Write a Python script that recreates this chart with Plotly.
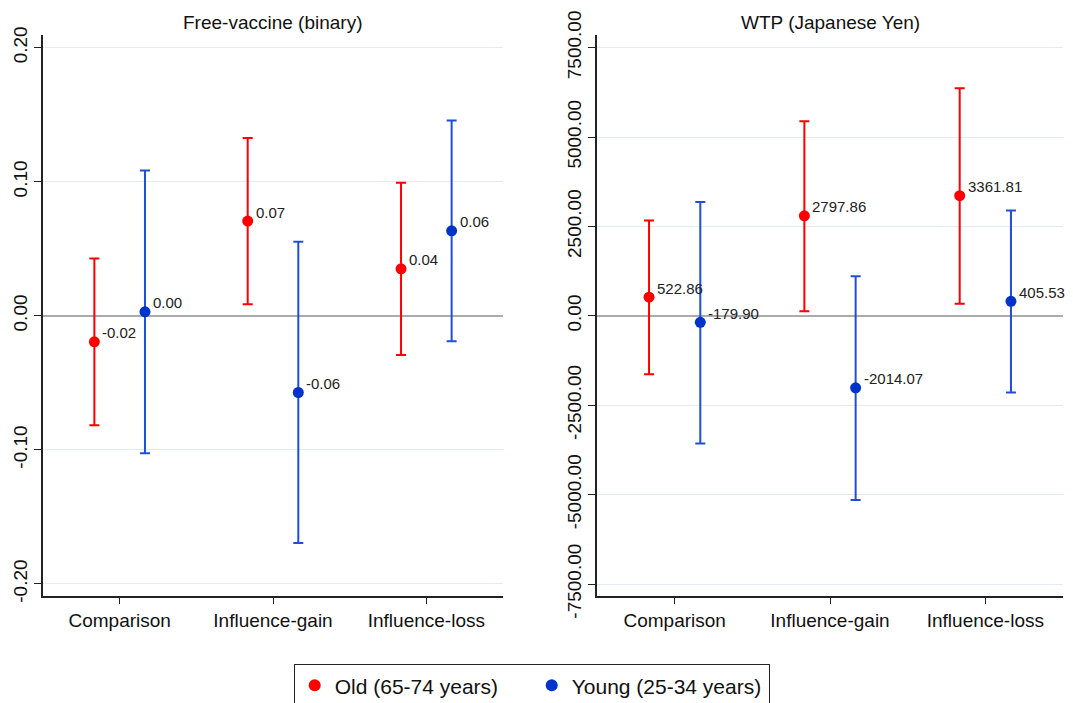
import plotly.graph_objects as go

categories = ["Comparison", "Influence-gain", "Influence-loss"]
series_names = ["Old (65-74 years)", "Young (25-34 years)"]

# Panel 1: Free-vaccine (binary)
fv_old = [-0.0194, 0.0707, 0.0351]
fv_old_lo = [-0.0816, 0.0087, -0.0293]
fv_old_hi = [0.0428, 0.1326, 0.0993]
fv_young = [0.0030, -0.0572, 0.0634]
fv_young_lo = [-0.1025, -0.1694, -0.0189]
fv_young_hi = [0.1085, 0.0552, 0.1458]
fv_ticks = [-0.2, -0.1, 0.0, 0.1, 0.2]

# Panel 2: WTP (Japanese Yen)
wtp_old = [522.86, 2797.86, 3361.81]
wtp_old_lo = [-1630, 131, 336]
wtp_old_hi = [2667, 5444, 6366]
wtp_young = [-179.90, -2014.07, 405.53]
wtp_young_lo = [-3568, -5153, -2142]
wtp_young_hi = [3187, 1110, 2947]
wtp_ticks = [-7500, -5000, -2500, 0, 2500, 5000, 7500]

titles = ["Free-vaccine (binary)", "WTP (Japanese Yen)"]

RED = "#ff0000"
BLUE_DOT = "#0033cc"
BLUE_LINE = "#1f4fd6"
FONT = "Liberation Sans, Arial, sans-serif"
OFF = 0.165

fig = go.Figure()
annots = []

def add_series(vals, lo, hi, name, color, lcolor, dx, xa, ya, show):
    xs = [i + 1 + dx for i in range(len(vals))]
    fig.add_trace(go.Scatter(
        x=xs, y=vals, mode="markers", name=name,
        marker=dict(size=11, color=color),
        error_y=dict(type="data", symmetric=False,
                     array=[h - v for h, v in zip(hi, vals)],
                     arrayminus=[v - l for l, v in zip(lo, vals)],
                     color=lcolor, thickness=2, width=5),
        xaxis=xa, yaxis=ya, showlegend=show, cliponaxis=False,
    ))
    for x, v in zip(xs, vals):
        annots.append(dict(x=x, y=v, xref=xa, yref=ya, text=f"{v:.2f}",
                           showarrow=False, xanchor="left", yanchor="middle",
                           xshift=6, yshift=9,
                           font=dict(size=15, color="#222222", family=FONT)))

add_series(fv_old, fv_old_lo, fv_old_hi, series_names[0], RED, RED, -OFF, "x", "y", True)
add_series(fv_young, fv_young_lo, fv_young_hi, series_names[1], BLUE_DOT, BLUE_LINE, OFF, "x", "y", True)
add_series(wtp_old, wtp_old_lo, wtp_old_hi, series_names[0], RED, RED, -OFF, "x2", "y2", False)
add_series(wtp_young, wtp_young_lo, wtp_young_hi, series_names[1], BLUE_DOT, BLUE_LINE, OFF, "x2", "y2", False)

H = 703.0
W = 1073.0
ydom = [(H - 596) / H, (H - 35) / H]

xcommon = dict(range=[0.5, 3.5], tickvals=[1, 2, 3], ticktext=categories,
               showgrid=False, zeroline=False, showline=True, linecolor="#222222",
               linewidth=1.5, ticks="outside", ticklen=6, tickcolor="#222222",
               tickfont=dict(size=19, color="#111111", family=FONT), automargin=False)
ycommon = dict(showgrid=True, gridcolor="#e2ebf0", gridwidth=1.2,
               zeroline=True, zerolinecolor="#ababab", zerolinewidth=2,
               showline=True, linecolor="#222222", linewidth=1.5,
               ticks="outside", ticklen=7, tickcolor="#222222", tickangle=-90,
               tickfont=dict(size=19, color="#111111", family=FONT), automargin=False)

for t, xc in zip(titles, [273, 830]):
    annots.append(dict(text=t, x=xc / W, y=(H - 22.7) / H, xref="paper", yref="paper",
                       showarrow=False, font=dict(size=19, color="#111111", family=FONT),
                       xanchor="center", yanchor="middle"))

fig.update_layout(
    template="none",
    width=1073, height=703,
    margin=dict(l=0, r=0, t=0, b=0, autoexpand=False),
    paper_bgcolor="white", plot_bgcolor="white",
    font=dict(family=FONT),
    xaxis=dict(domain=[43 / W, 503 / W], anchor="y", **xcommon),
    xaxis2=dict(domain=[597 / W, 1063 / W], anchor="y2", **xcommon),
    yaxis=dict(domain=ydom, anchor="x", range=[-0.209, 0.2095],
               tickvals=fv_ticks, ticktext=[f"{v:.2f}" for v in fv_ticks], **ycommon),
    yaxis2=dict(domain=ydom, anchor="x2", range=[-7835, 7855],
                tickvals=wtp_ticks, ticktext=[f"{v:.2f}" for v in wtp_ticks], **ycommon),
    legend=dict(orientation="h", xref="container", yref="container",
                x=532 / W, xanchor="center", y=(H - 664) / H, yanchor="top",
                bordercolor="#222222", borderwidth=1.2, itemsizing="constant",
                entrywidth=192, entrywidthmode="pixels",
                font=dict(size=21, color="#111111", family=FONT)),
    annotations=annots,
)

fig.write_html("out.html", config={"displayModeBar": False},
               post_script="document.body.style.margin='0px';")
